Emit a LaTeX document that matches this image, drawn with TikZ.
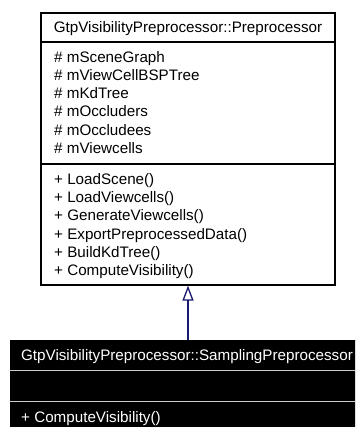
\documentclass[tikz,border=0pt]{standalone}
\usepackage{fontspec}
\setmainfont{Liberation Sans}
\usetikzlibrary{arrows.meta}
\definecolor{edgeblue}{HTML}{191970}
\tikzset{
  classbox/.style={draw=black, line width=1.2pt, fill=white, inner sep=0pt, rectangle},
  darkbox/.style={draw=black, fill=black, inner sep=0pt, rectangle},
  member/.style={anchor=base west, inner sep=0pt, font=\fontsize{15.2}{18}\selectfont},
  title/.style={anchor=base, inner sep=0pt, font=\fontsize{15.2}{18}\selectfont},
  wmember/.style={member, text=white},
  wtitle/.style={title, text=white},
  inherit/.style={draw=edgeblue, line width=1.3pt, -{Triangle[open, width=11pt, length=15pt, line width=1.3pt]}}
}
\begin{document}
\begin{tikzpicture}[x=1pt,y=-1pt]
\useasboundingbox (0,0) rectangle (355,427);
\clip (0,0) rectangle (355,427);
% top class
\node[classbox, minimum width=294pt, minimum height=272pt] (pre) at (188,149) {};
\draw[line width=1.2pt] (41,42) -- (335,42);
\draw[line width=1.2pt] (41,164) -- (335,164);
\node[title] (pret) at (188,32.6) {GtpVisibilityPreprocessor::Preprocessor};
\node[member] (a1) at (54,62.4) {\# mSceneGraph};
\node[member] (a2) at (54,80.6) {\# mViewCellBSPTree};
\node[member] (a3) at (54,98.8) {\# mKdTree};
\node[member] (a4) at (54,117) {\# mOccluders};
\node[member] (a5) at (54,135.2) {\# mOccludees};
\node[member] (a6) at (54,153.4) {\# mViewcells};
\node[member] (m1) at (54,184.4) {+ LoadScene()};
\node[member] (m2) at (54,202.6) {+ LoadViewcells()};
\node[member] (m3) at (54,220.8) {+ GenerateViewcells()};
\node[member] (m4) at (54,239) {+ ExportPreprocessedData()};
\node[member] (m5) at (54,257.2) {+ BuildKdTree()};
\node[member] (m6) at (54,275.4) {+ ComputeVisibility()};
% bottom class
\node[darkbox, minimum width=354pt, minimum height=100pt] (samp) at (187,390) {};
\draw[white!80!black, line width=1pt] (10,370) -- (364,370);
\draw[white!80!black, line width=1pt] (10,401) -- (364,401);
\node[wtitle] (sampt) at (187,360.4) {GtpVisibilityPreprocessor::SamplingPreprocessor};
\node[wmember] (sm1) at (21,422.4) {+ ComputeVisibility()};
% inheritance
\draw[inherit] (samp.north -| pre.south) -- (pre.south);
\end{tikzpicture}
\end{document}
